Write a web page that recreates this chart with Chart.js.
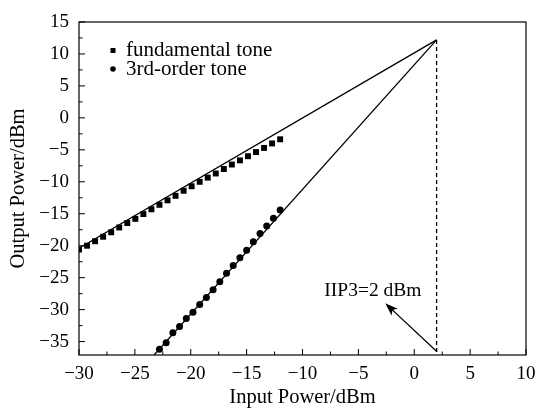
<!DOCTYPE html>
<html>
<head>
<meta charset="utf-8">
<script src="https://cdn.jsdelivr.net/npm/chart.js@4.4.1/dist/chart.umd.min.js"></script>
<style>
  html, body { margin: 0; padding: 0; background: #fff; }
</style>
</head>
<body>
<canvas id="chart" width="539" height="410"></canvas>
<script>
// measured points
const fundX = [-30, -29.28, -28.56, -27.84, -27.12, -26.4, -25.68, -24.96, -24.24, -23.52, -22.8, -22.08, -21.36,
  -20.64, -19.92, -19.2, -18.48, -17.76, -17.04, -16.32, -15.6, -14.88, -14.16, -13.44, -12.72, -12.0]
const fundY = [-20.6, -20.0, -19.3, -18.6, -17.9, -17.15, -16.45, -15.8, -15.05, -14.3, -13.6, -12.9, -12.2,
  -11.4, -10.7, -10.0, -9.35, -8.7, -8.0, -7.3, -6.65, -6.0, -5.35, -4.7, -4.0, -3.35]
const thirdX = [-22.8, -22.2, -21.6, -21.0, -20.4, -19.8, -19.2, -18.6, -18.0, -17.4, -16.8, -16.2, -15.6,
  -15.0, -14.4, -13.8, -13.2, -12.6, -12.0]
const thirdY = [-36.2, -35.2, -33.6, -32.65, -31.4, -30.4, -29.2, -28.1, -26.9, -25.65, -24.3, -23.1, -21.9,
  -20.7, -19.4, -18.1, -16.9, -15.7, -14.4]

// fitted lines and IIP3 marker
const fundFitX = [-30, 2]
const fundFitY = [-20.4, 12.2]
const thirdFitX = [-23.28, 2]
const thirdFitY = [-37.1, 12.2]
const iip3X = [2, 2]
const iip3Y = [12.2, -37.1]
const arrowX = [2.04, -2.6]   // tail, head
const arrowY = [-36.6, -29.0]
const noteX = -3.7
const noteY = -27.8
const noteText = 'IIP3=2 dBm'

const xTicks = [-30, -25, -20, -15, -10, -5, 0, 5, 10]
const yTicks = [-35, -30, -25, -20, -15, -10, -5, 0, 5, 10, 15]
const seriesLabels = ['fundamental tone', '3rd-order tone']

const FONT = 'Liberation Serif'
const INK = '#000'

const pts = (xs, ys) => xs.map((x, i) => ({ x, y: ys[i] }))
const fmt = v => (v < 0 ? '\u2212' + Math.abs(v) : String(v))

const decor = {
  id: 'decor',
  afterDraw(chart) {
    const { ctx, chartArea: a, scales: { x, y } } = chart
    ctx.save()
    ctx.strokeStyle = INK
    ctx.lineWidth = 1.2
    ctx.strokeRect(a.left, a.top, a.right - a.left, a.bottom - a.top)

    // inward ticks, major + minor
    ctx.lineWidth = 1
    ctx.beginPath()
    xTicks.forEach((v, i) => {
      const px = x.getPixelForValue(v)
      ctx.moveTo(px, a.bottom); ctx.lineTo(px, a.bottom - 6)
      if (i < xTicks.length - 1) {
        const m = x.getPixelForValue((v + xTicks[i + 1]) / 2)
        ctx.moveTo(m, a.bottom); ctx.lineTo(m, a.bottom - 3.5)
      }
    })
    yTicks.forEach((v, i) => {
      const py = y.getPixelForValue(v)
      ctx.moveTo(a.left, py); ctx.lineTo(a.left + 6, py)
      if (i < yTicks.length - 1) {
        const m = y.getPixelForValue((v + yTicks[i + 1]) / 2)
        ctx.moveTo(a.left, m); ctx.lineTo(a.left + 3.5, m)
      }
    })
    ctx.stroke()

    // arrow
    const tx = x.getPixelForValue(arrowX[0]), ty = y.getPixelForValue(arrowY[0])
    const hx = x.getPixelForValue(arrowX[1]), hy = y.getPixelForValue(arrowY[1])
    const ang = Math.atan2(hy - ty, hx - tx)
    const c = Math.cos(ang), s = Math.sin(ang)
    ctx.lineWidth = 1.3
    ctx.beginPath()
    ctx.moveTo(tx, ty)
    ctx.lineTo(hx - 9 * c, hy - 9 * s)
    ctx.stroke()
    ctx.fillStyle = INK
    ctx.beginPath()
    ctx.moveTo(hx, hy)
    ctx.lineTo(hx - 13 * c + 4.5 * s, hy - 13 * s - 4.5 * c)
    ctx.lineTo(hx - 10 * c, hy - 10 * s)
    ctx.lineTo(hx - 13 * c - 4.5 * s, hy - 13 * s + 4.5 * c)
    ctx.closePath()
    ctx.fill()

    // note
    ctx.font = `19.5px "${FONT}"`
    ctx.textAlign = 'center'
    ctx.textBaseline = 'alphabetic'
    ctx.fillText(noteText, x.getPixelForValue(noteX), y.getPixelForValue(noteY))

    // legend
    ctx.font = `21px "${FONT}"`
    ctx.textAlign = 'left'
    ctx.textBaseline = 'middle'
    ctx.fillRect(110.5, 48, 5, 5)
    ctx.beginPath()
    ctx.arc(113, 69, 2.8, 0, Math.PI * 2)
    ctx.fill()
    ctx.fillText(seriesLabels[0], 126, 50)
    ctx.fillText(seriesLabels[1], 126, 69)
    ctx.restore()
  }
}

const axisFont = { family: FONT, size: 19 }
const titleFont = { family: FONT, size: 20.5 }

new Chart(document.getElementById('chart'), {
  type: 'scatter',
  data: {
    datasets: [
      { label: 'fund fit', data: pts(fundFitX, fundFitY), showLine: true, borderColor: INK, borderWidth: 1.3, pointRadius: 0 },
      { label: 'third fit', data: pts(thirdFitX, thirdFitY), showLine: true, borderColor: INK, borderWidth: 1.3, pointRadius: 0 },
      { label: 'iip3', data: pts(iip3X, iip3Y), showLine: true, borderColor: INK, borderWidth: 1.3, borderDash: [4, 3], pointRadius: 0 },
      { label: seriesLabels[0], data: pts(fundX, fundY), pointStyle: 'rect', pointRadius: 4.2, backgroundColor: INK, borderColor: INK, borderWidth: 0 },
      { label: seriesLabels[1], data: pts(thirdX, thirdY), pointStyle: 'circle', pointRadius: 3.5, backgroundColor: INK, borderColor: INK, borderWidth: 0 },
    ],
  },
  options: {
    responsive: false,
    animation: false,
    devicePixelRatio: 1,
    layout: { padding: { top: 22, right: 13, left: 0, bottom: 0 } },
    plugins: { legend: { display: false }, tooltip: { enabled: false } },
    scales: {
      x: {
        type: 'linear',
        min: -30,
        max: 10,
        afterBuildTicks: s => { s.ticks = xTicks.map(v => ({ value: v })) },
        afterFit: s => { s.height = 55 },
        grid: { display: false },
        border: { display: false },
        ticks: { callback: fmt, font: axisFont, color: INK, padding: 0, maxRotation: 0 },
        title: { display: true, text: 'Input Power/dBm', font: titleFont, color: INK, padding: { top: 0, bottom: 0 } },
      },
      y: {
        type: 'linear',
        min: -37.1,
        max: 15,
        afterBuildTicks: s => { s.ticks = yTicks.map(v => ({ value: v })) },
        afterFit: s => { s.width = 79 },
        grid: { display: false },
        border: { display: false },
        ticks: { callback: fmt, font: axisFont, color: INK, padding: 2 },
        title: { display: true, text: 'Output Power/dBm', font: titleFont, color: INK, padding: { top: 6, bottom: 0 } },
      },
    },
  },
  plugins: [decor],
})
</script>
</body>
</html>
